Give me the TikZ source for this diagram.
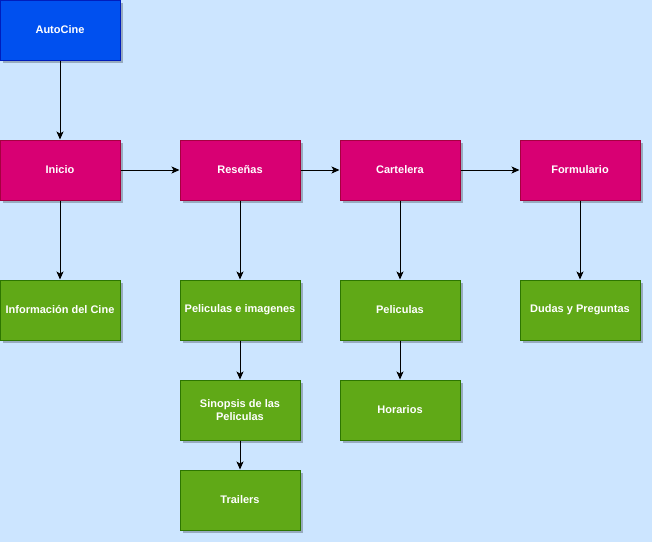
\documentclass[tikz,border=0pt]{standalone}
\usepackage{fontspec}
\setmainfont{Liberation Sans}
\usetikzlibrary{arrows.meta,shadows}
\definecolor{bgblue}{HTML}{CCE5FF}
\definecolor{rootfill}{HTML}{0050EF}
\definecolor{rootline}{HTML}{001DBC}
\definecolor{secfill}{HTML}{D80073}
\definecolor{secline}{HTML}{A50040}
\definecolor{leaffill}{HTML}{60A917}
\definecolor{leafline}{HTML}{2D7600}
\tikzset{
  box/.style={rectangle, minimum width=120pt, minimum height=60pt, inner sep=2pt,
    line width=1pt, text=white, align=center,
    font=\fontsize{11}{13}\selectfont\bfseries,
    drop shadow={shadow xshift=2.5pt, shadow yshift=-2.5pt, opacity=0.25, fill=black}},
  rootbox/.style={box, fill=rootfill, draw=rootline},
  secbox/.style={box, fill=secfill, draw=secline},
  leafbox/.style={box, fill=leaffill, draw=leafline},
  link/.style={draw=black, line width=1pt, -{Stealth[length=8pt,width=7pt,inset=2pt]}}
}
\begin{document}
\begin{tikzpicture}[x=1pt,y=-1pt]
  \fill[bgblue] (0,0) rectangle (652,542);
  \useasboundingbox (0,0) rectangle (652,542);

  % top level
  \node[rootbox] (auto) at (60,30) {AutoCine};

  % main sections
  \node[secbox] (inicio) at (60,170) {Inicio};
  \node[secbox] (resenas) at (240,170) {Reseñas};
  \node[secbox] (cartelera) at (400,170) {Cartelera};
  \node[secbox] (formulario) at (580,170) {Formulario};

  % section contents
  \node[leafbox] (info) at (60,310) {Información del Cine};
  \node[leafbox] (pelimg) at (240,310) {Peliculas e imagenes};
  \node[leafbox] (pel) at (400,310) {Peliculas};
  \node[leafbox] (dudas) at (580,310) {Dudas y Preguntas};
  \node[leafbox] (sinopsis) at (240,410) {Sinopsis de las\\Peliculas};
  \node[leafbox] (horarios) at (400,410) {Horarios};
  \node[leafbox] (trailers) at (240,500) {Trailers};

  % connectors
  \draw[link] (auto) -- (inicio);
  \draw[link] (inicio) -- (resenas);
  \draw[link] (resenas) -- (cartelera);
  \draw[link] (cartelera) -- (formulario);
  \draw[link] (inicio) -- (info);
  \draw[link] (resenas) -- (pelimg);
  \draw[link] (cartelera) -- (pel);
  \draw[link] (formulario) -- (dudas);
  \draw[link] (pelimg) -- (sinopsis);
  \draw[link] (sinopsis) -- (trailers);
  \draw[link] (pel) -- (horarios);
\end{tikzpicture}
\end{document}
